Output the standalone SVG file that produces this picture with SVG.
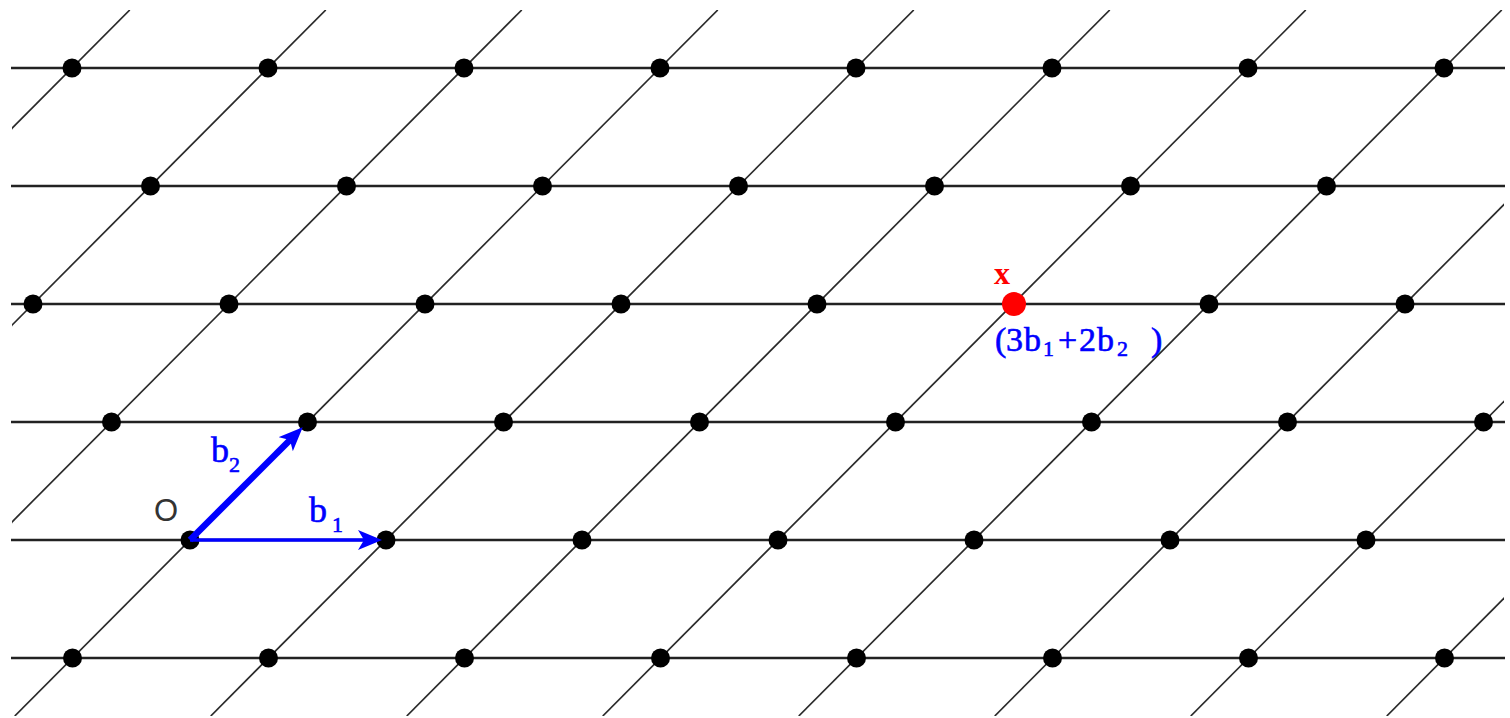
<svg xmlns="http://www.w3.org/2000/svg" width="1510" height="718" viewBox="0 0 1510 718">
<style>
.h{stroke:#222;stroke-width:2.6;fill:none}
.d{stroke:#2a2a2a;stroke-width:1.7;fill:none}
.pt{fill:#000}
.vec{stroke:#0000ff;fill:none}
.lbl{font-family:"Liberation Serif","Times New Roman",serif;fill:#0000ff;stroke:#0000ff;stroke-width:0.6}
.sub{font-size:22px}
</style>
<defs>
<clipPath id="frame"><rect x="12" y="10" width="1492" height="706"/></clipPath>
<marker id="ah" markerUnits="userSpaceOnUse" markerWidth="26" markerHeight="22" refX="6" refY="10" orient="auto">
<path d="M0,0 L24,10 L0,20 L6,10 Z" fill="#0000ff"/>
</marker>
</defs>
<rect width="1510" height="718" fill="#fff"/>
<g id="connectors">
<g id="rows">
<line class="h" x1="11" y1="68" x2="1505" y2="68"/>
<line class="h" x1="11" y1="186" x2="1505" y2="186"/>
<line class="h" x1="11" y1="304" x2="1505" y2="304"/>
<line class="h" x1="11" y1="422" x2="1505" y2="422"/>
<line class="h" x1="11" y1="540" x2="1505" y2="540"/>
<line class="h" x1="11" y1="658" x2="1505" y2="658"/>
</g>
<g id="diagonals" clip-path="url(#frame)">
<line class="d" x1="-573.25" y1="716" x2="129.75" y2="10"/>
<line class="d" x1="-377.25" y1="716" x2="325.75" y2="10"/>
<line class="d" x1="-181.25" y1="716" x2="521.75" y2="10"/>
<line class="d" x1="14.75" y1="716" x2="717.75" y2="10"/>
<line class="d" x1="210.75" y1="716" x2="913.75" y2="10"/>
<line class="d" x1="406.75" y1="716" x2="1109.75" y2="10"/>
<line class="d" x1="602.75" y1="716" x2="1305.75" y2="10"/>
<line class="d" x1="798.75" y1="716" x2="1501.75" y2="10"/>
<line class="d" x1="994.75" y1="716" x2="1697.75" y2="10"/>
<line class="d" x1="1190.75" y1="716" x2="1893.75" y2="10"/>
<line class="d" x1="1386.75" y1="716" x2="2089.75" y2="10"/>
</g>
</g>
<g id="points">
<g id="p_m1_0"><circle class="pt" cx="72.5" cy="658" r="9.5"/></g>
<g id="p_m1_1"><circle class="pt" cx="268.5" cy="658" r="9.5"/></g>
<g id="p_m1_2"><circle class="pt" cx="464.5" cy="658" r="9.5"/></g>
<g id="p_m1_3"><circle class="pt" cx="660.5" cy="658" r="9.5"/></g>
<g id="p_m1_4"><circle class="pt" cx="856.5" cy="658" r="9.5"/></g>
<g id="p_m1_5"><circle class="pt" cx="1052.5" cy="658" r="9.5"/></g>
<g id="p_m1_6"><circle class="pt" cx="1248.5" cy="658" r="9.5"/></g>
<g id="p_m1_7"><circle class="pt" cx="1444.5" cy="658" r="9.5"/></g>
<g id="p_0_0"><circle class="pt" cx="190" cy="540" r="9.5"/></g>
<g id="p_0_1"><circle class="pt" cx="386" cy="540" r="9.5"/></g>
<g id="p_0_2"><circle class="pt" cx="582" cy="540" r="9.5"/></g>
<g id="p_0_3"><circle class="pt" cx="778" cy="540" r="9.5"/></g>
<g id="p_0_4"><circle class="pt" cx="974" cy="540" r="9.5"/></g>
<g id="p_0_5"><circle class="pt" cx="1170" cy="540" r="9.5"/></g>
<g id="p_0_6"><circle class="pt" cx="1366" cy="540" r="9.5"/></g>
<g id="p_1_0"><circle class="pt" cx="111.5" cy="422" r="9.5"/></g>
<g id="p_1_1"><circle class="pt" cx="307.5" cy="422" r="9.5"/></g>
<g id="p_1_2"><circle class="pt" cx="503.5" cy="422" r="9.5"/></g>
<g id="p_1_3"><circle class="pt" cx="699.5" cy="422" r="9.5"/></g>
<g id="p_1_4"><circle class="pt" cx="895.5" cy="422" r="9.5"/></g>
<g id="p_1_5"><circle class="pt" cx="1091.5" cy="422" r="9.5"/></g>
<g id="p_1_6"><circle class="pt" cx="1287.5" cy="422" r="9.5"/></g>
<g id="p_1_7"><circle class="pt" cx="1483.5" cy="422" r="9.5"/></g>
<g id="p_2_0"><circle class="pt" cx="33" cy="304" r="9.5"/></g>
<g id="p_2_1"><circle class="pt" cx="229" cy="304" r="9.5"/></g>
<g id="p_2_2"><circle class="pt" cx="425" cy="304" r="9.5"/></g>
<g id="p_2_3"><circle class="pt" cx="621" cy="304" r="9.5"/></g>
<g id="p_2_4"><circle class="pt" cx="817" cy="304" r="9.5"/></g>
<g id="p_2_6"><circle class="pt" cx="1209" cy="304" r="9.5"/></g>
<g id="p_2_7"><circle class="pt" cx="1405" cy="304" r="9.5"/></g>
<g id="p_3_0"><circle class="pt" cx="150.5" cy="186" r="9.5"/></g>
<g id="p_3_1"><circle class="pt" cx="346.5" cy="186" r="9.5"/></g>
<g id="p_3_2"><circle class="pt" cx="542.5" cy="186" r="9.5"/></g>
<g id="p_3_3"><circle class="pt" cx="738.5" cy="186" r="9.5"/></g>
<g id="p_3_4"><circle class="pt" cx="934.5" cy="186" r="9.5"/></g>
<g id="p_3_5"><circle class="pt" cx="1130.5" cy="186" r="9.5"/></g>
<g id="p_3_6"><circle class="pt" cx="1326.5" cy="186" r="9.5"/></g>
<g id="p_4_0"><circle class="pt" cx="72" cy="68" r="9.5"/></g>
<g id="p_4_1"><circle class="pt" cx="268" cy="68" r="9.5"/></g>
<g id="p_4_2"><circle class="pt" cx="464" cy="68" r="9.5"/></g>
<g id="p_4_3"><circle class="pt" cx="660" cy="68" r="9.5"/></g>
<g id="p_4_4"><circle class="pt" cx="856" cy="68" r="9.5"/></g>
<g id="p_4_5"><circle class="pt" cx="1052" cy="68" r="9.5"/></g>
<g id="p_4_6"><circle class="pt" cx="1248" cy="68" r="9.5"/></g>
<g id="p_4_7"><circle class="pt" cx="1444" cy="68" r="9.5"/></g>
</g>
<g id="point-x">
<circle cx="1014" cy="304" r="12" fill="#ff0000"/>
<text x="994" y="284" font-family="Liberation Serif, Times New Roman, serif" font-size="32" font-weight="bold" fill="#ff0000">x</text>
<text class="lbl" y="351" font-size="34"><tspan x="995">(</tspan><tspan x="1006">3</tspan><tspan x="1024">b</tspan><tspan x="1043" y="356" class="sub">1</tspan><tspan x="1058" y="351">+</tspan><tspan x="1079">2</tspan><tspan x="1097">b</tspan><tspan x="1117" y="356" class="sub">2</tspan><tspan x="1151" y="351">)</tspan></text>
</g>
<g id="origin">
<text x="166" y="521" font-family="Liberation Sans, Arial, sans-serif" font-size="31" fill="#333" text-anchor="middle">O</text>
</g>
<g id="vector-b1">
<line class="vec" x1="190" y1="540" x2="364" y2="540" stroke-width="3.5" marker-end="url(#ah)"/>
<text class="lbl" x="309" y="522" font-size="36">b<tspan x="332" y="532" class="sub">1</tspan></text>
</g>
<g id="vector-b2">
<line class="vec" x1="190" y1="540" x2="290" y2="440" stroke-width="6.5" marker-end="url(#ah)"/>
<text class="lbl" x="211" y="462" font-size="36">b<tspan x="229" y="472" class="sub">2</tspan></text>
</g>
</svg>
